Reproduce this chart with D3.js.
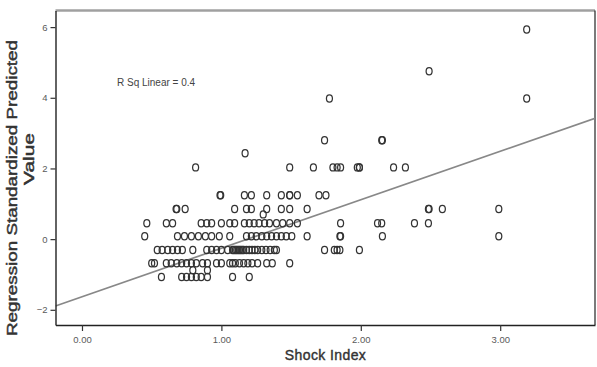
<!DOCTYPE html>
<html>
<head>
<meta charset="utf-8">
<script src="https://cdn.jsdelivr.net/npm/d3@7"></script>
<style>
  html, body { margin: 0; padding: 0; background: #fff; }
  svg { display: block; }
  text { font-family: "Liberation Sans", Arial, sans-serif; }
</style>
</head>
<body>
<svg id="chart" width="597" height="367"></svg>
<script>
// ---- data ----
const xTicks = [0, 1, 2, 3];
const yTicks = [-2, 0, 2, 4, 6];
const xTitle = "Shock Index";
const yTitleLines = ["Regression Standardized Predicted", "Value"];
const fitLabel = "R Sq Linear = 0.4";
const fitIntercept = -1.63;
const fitSlope = 1.372;

// standardized predicted value of each row of points
const rowPredicted = [5.93, 4.75, 3.98, 2.80, 2.43, 2.03, 1.24, 0.85, 0.70, 0.45, 0.08, -0.31, -0.68, -0.88, -1.07];
// shock index values of the points in each row
const rowShock = [
  [3.19],
  [2.49],
  [1.775, 3.19],
  [1.74, 2.15, 2.155],
  [1.17],
  [0.815, 1.49, 1.66, 1.80, 1.83, 1.855, 1.975, 1.99, 1.99, 2.235, 2.32],
  [0.99, 0.995, 1.165, 1.215, 1.325, 1.43, 1.49, 1.49, 1.545, 1.70, 1.75],
  [0.675, 0.68, 0.74, 1.095, 1.18, 1.215, 1.325, 1.43, 1.49, 1.615, 2.485, 2.49, 2.585, 2.99],
  [1.30],
  [0.465, 0.605, 0.65, 0.855, 0.895, 0.93, 1.0, 1.06, 1.095, 1.165, 1.20, 1.235, 1.27, 1.31, 1.345, 1.395, 1.44, 1.49, 1.545, 1.855, 2.12, 2.15, 2.385, 2.485],
  [0.45, 0.685, 0.735, 0.785, 0.835, 0.885, 0.93, 0.985, 1.06, 1.18, 1.215, 1.25, 1.29, 1.325, 1.36, 1.395, 1.43, 1.465, 1.505, 1.615, 1.85, 1.855, 2.155, 2.99],
  [0.54, 0.575, 0.615, 0.65, 0.685, 0.72, 0.795, 0.895, 0.93, 0.965, 1.0, 1.045, 1.08, 1.09, 1.10, 1.11, 1.12, 1.13, 1.14, 1.15, 1.16, 1.18, 1.20, 1.22, 1.24, 1.26, 1.29, 1.32, 1.35, 1.38, 1.395, 1.74, 1.81, 1.83, 1.85, 1.99],
  [0.50, 0.52, 0.605, 0.64, 0.68, 0.715, 0.75, 0.785, 0.82, 0.865, 0.90, 0.965, 1.0, 1.06, 1.08, 1.10, 1.13, 1.16, 1.19, 1.22, 1.26, 1.325, 1.365, 1.49],
  [0.795, 0.90],
  [0.57, 0.715, 0.75, 0.785, 0.82, 0.855, 0.90, 1.08, 1.20]
];

const points = [];
rowPredicted.forEach((yv, i) => rowShock[i].forEach(xv => points.push({x: xv, y: yv})));

// ---- layout ----
const svg = d3.select("#chart");
const plotL = 55.5, plotR = 595, plotT = 10.5, plotB = 325;
const x = d3.scaleLinear().domain([-0.19, 3.68]).range([plotL, plotR]);
const y = d3.scaleLinear().domain([-2.43, 6.47]).range([plotB, plotT]);

svg.append("rect").attr("width", 597).attr("height", 367).attr("fill", "#fff");

svg.append("defs").append("clipPath").attr("id", "plotclip")
  .append("rect").attr("x", plotL).attr("y", plotT).attr("width", plotR - plotL).attr("height", plotB - plotT);

// frame: top gray, right black
svg.append("line").attr("x1", plotL).attr("x2", plotR).attr("y1", plotT).attr("y2", plotT)
  .attr("stroke", "#a0a0a0").attr("stroke-width", 2.5);
svg.append("line").attr("x1", plotR).attr("x2", plotR).attr("y1", plotT).attr("y2", plotB)
  .attr("stroke", "#222").attr("stroke-width", 1.2);

// regression line
const xd = x.domain();
svg.append("line")
  .attr("clip-path", "url(#plotclip)")
  .attr("x1", x(xd[0])).attr("y1", y(fitIntercept + fitSlope * xd[0]))
  .attr("x2", x(xd[1])).attr("y2", y(fitIntercept + fitSlope * xd[1]))
  .attr("stroke", "#888").attr("stroke-width", 1.7);

// points
svg.append("g").selectAll("ellipse").data(points).join("ellipse")
  .attr("cx", d => x(d.x)).attr("cy", d => y(d.y))
  .attr("rx", 3.0).attr("ry", 3.6)
  .attr("fill", "none").attr("stroke", "#333").attr("stroke-width", 1.25);

// axes
const yAxis = svg.append("g").attr("transform", `translate(${plotL},0)`)
  .call(d3.axisLeft(y).tickValues(yTicks).tickSize(5).tickPadding(3).tickSizeOuter(0).tickFormat(d3.format("d")));
const xAxis = svg.append("g").attr("transform", `translate(0,${plotB})`)
  .call(d3.axisBottom(x).tickValues(xTicks).tickSize(6).tickPadding(5).tickSizeOuter(0).tickFormat(d3.format(".2f")));
[yAxis, xAxis].forEach(g => {
  g.select(".domain").attr("stroke", "#222").attr("stroke-width", 1.4);
  g.selectAll(".tick line").attr("stroke", "#333").attr("stroke-width", 1.2);
  g.selectAll(".tick text").attr("fill", "#5a5a5a").style("font-size", "9.5px")
    .style("font-family", "'Liberation Sans', Arial, sans-serif");
});

// fit label
svg.append("text").attr("x", 117).attr("y", 86).attr("fill", "#444")
  .style("font-size", "10px").text(fitLabel);

// axis titles (regular weight thickened slightly with a thin stroke)
svg.append("text").attr("x", 325.5).attr("y", 360)
  .attr("text-anchor", "middle").attr("fill", "#333")
  .attr("stroke", "#333").attr("stroke-width", 0.4)
  .style("font-size", "14px").style("letter-spacing", "0.4px").text(xTitle);

const yt = svg.append("text").attr("transform", "rotate(-90)")
  .attr("fill", "#333").attr("stroke", "#333").attr("stroke-width", 0.45)
  .style("font-size", "14.5px");
yt.append("tspan").attr("x", -188).attr("y", 17).attr("text-anchor", "middle")
  .attr("textLength", 296).attr("lengthAdjust", "spacingAndGlyphs").text(yTitleLines[0]);
yt.append("tspan").attr("x", -159).attr("y", 33.5).attr("text-anchor", "middle")
  .attr("textLength", 52).attr("lengthAdjust", "spacingAndGlyphs").text(yTitleLines[1]);
</script>
</body>
</html>
